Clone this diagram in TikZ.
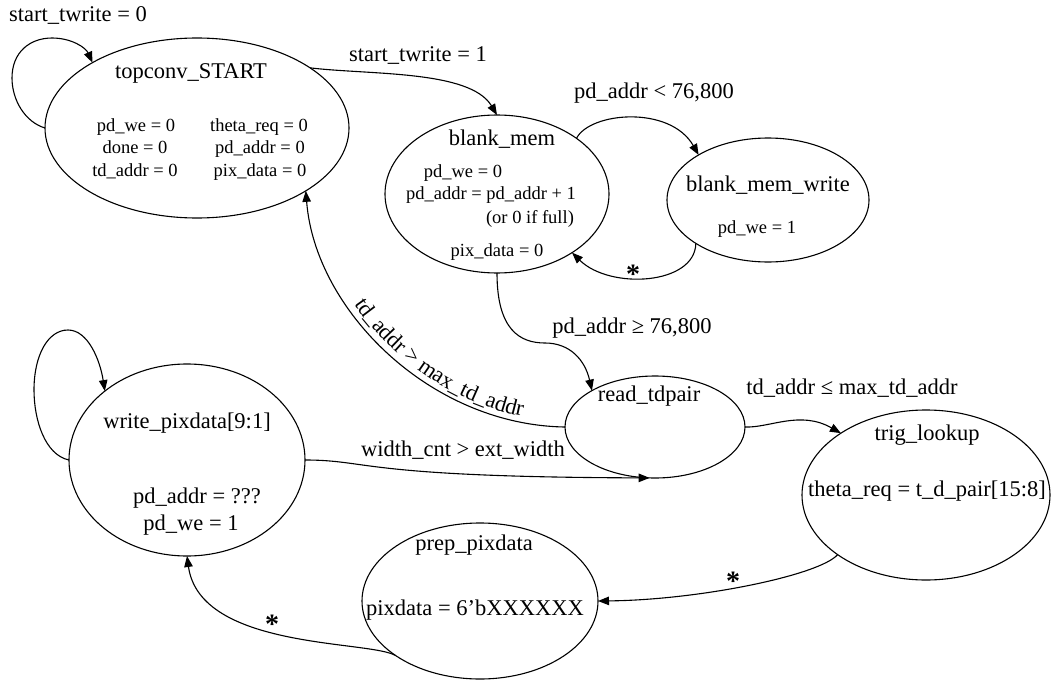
\documentclass[tikz,border=0pt]{standalone}
\usepackage{fontspec}
\setmainfont{Liberation Serif}
\usetikzlibrary{arrows.meta,shapes.geometric,decorations.text}
\newcommand\Lbig{\fontsize{22.5pt}{23pt}\selectfont}
\newcommand\Lsmall{\fontsize{18.5pt}{22pt}\selectfont}
\begin{document}
\begin{tikzpicture}[x=1pt,y=-1pt,
  st/.style={ellipse,draw,line width=1.1pt,inner sep=0pt,outer sep=0pt},
  lbl/.style={inner sep=0pt,font=\Lbig,text height=0.7em,text depth=0.1em},
  sml/.style={inner sep=0pt,font=\Lsmall,text height=0.7em,text depth=0.1em},
  arr/.style={draw,line width=1.1pt,-{Triangle[length=11pt,width=8.5pt]}},
  star/.style={inner sep=0pt,font=\fontsize{28pt}{28pt}\selectfont\bfseries}
]
\useasboundingbox (0,0) rectangle (1053,680);

% states
\node[st,minimum width=304pt,minimum height=180pt] (topconv) at (197,128) {};
\node[st,minimum width=224pt,minimum height=158pt] (blankmem) at (497,194) {};
\node[st,minimum width=202pt,minimum height=124pt] (blankwrite) at (768,200) {};
\node[st,minimum width=180pt,minimum height=102pt] (readtd) at (655,427) {};
\node[st,minimum width=248pt,minimum height=170pt] (trig) at (926,495) {};
\node[st,minimum width=236pt,minimum height=156pt] (prep) at (480,601) {};
\node[st,minimum width=236pt,minimum height=192pt] (writepix) at (187,460) {};

% state texts
\node[lbl] (tcname) at (191,75) {topconv\_START};
\node[sml] (tcl1) at (136,128) {pd\_we = 0};
\node[sml] (tcl2) at (135,150) {done = 0};
\node[sml] (tcl3) at (135,173) {td\_addr = 0};
\node[sml] (tcr1) at (259,128) {theta\_req = 0};
\node[sml] (tcr2) at (260,150) {pd\_addr = 0};
\node[sml] (tcr3) at (260,173) {pix\_data = 0};

\node[lbl] (bmname) at (502,142) {blank\_mem};
\node[sml] (bm1) at (463,174) {pd\_we = 0};
\node[sml] (bm2) at (491,196) {pd\_addr = pd\_addr + 1};
\node[sml] (bm3) at (530,220) {(or 0 if full)};
\node[sml] (bm4) at (497,253) {pix\_data = 0};

\node[lbl] (bwname) at (768,188) {blank\_mem\_write};
\node[sml] (bw1) at (757,230) {pd\_we = 1};

\node[lbl] (rtname) at (649,398) {read\_tdpair};

\node[lbl] (tlname) at (927,437) {trig\_lookup};
\node[lbl] (tl1) at (927,493) {theta\_req = t\_d\_pair[15:8]};

\node[lbl] (ppname) at (474,547) {prep\_pixdata};
\node[lbl] (pp1) at (475,612) {pixdata = 6’bXXXXXX};

\node[lbl] (wpname) at (187,425) {write\_pixdata[9:1]};
\node[lbl] (wp1) at (197,500) {pd\_addr = ???};
\node[lbl] (wp2) at (191,527) {pd\_we = 1};

% transitions
\draw[arr] (topconv.180) .. controls (25,122) and (12,100) .. (12,78)
  .. controls (12,52) and (30,38) .. (52,38)
  .. controls (72,38) and (86,48) .. (topconv.148);
\draw[arr] (topconv.28) .. controls (370,75) and (470,70) .. (blankmem.90);
\draw[arr] (blankmem.35) .. controls (590,112) and (670,105) .. (blankwrite.147);
\draw[arr] (blankwrite.211) .. controls (695,285) and (610,290) .. (blankmem.322);
\draw[arr] (blankmem.270) .. controls (497,330) and (520,343) .. (545,343)
  .. controls (570,343) and (585,360) .. (readtd.150);
\draw[arr] (readtd.180) .. controls (430,425) and (315,310) .. (topconv.330);
\draw[arr] (writepix.0) .. controls (370,460) and (360,477) .. (readtd.264);
\draw[arr] (readtd.0) .. controls (770,428) and (800,410) .. (trig.144);
\draw[arr] (trig.214) .. controls (820,575) and (700,600) .. (prep.0);
\draw[arr] (prep.213) .. controls (370,640) and (200,650) .. (writepix.270);
\draw[arr] (writepix.180) .. controls (45,455) and (34,420) .. (34,390)
  .. controls (34,355) and (48,330) .. (68,330)
  .. controls (88,330) and (100,360) .. (writepix.140);

% transition labels
\node[lbl] (l1) at (78,18) {start\_twrite = 0};
\node[lbl] (l2) at (418,58) {start\_twrite = 1};
\node[lbl] (l3) at (654,95) {pd\_addr < 76,800};
\node[lbl] (l4) at (632,330) {pd\_addr ≥ 76,800};
\node[lbl] (l5) at (463,453) {width\_cnt > ext\_width};
\node[lbl] (l6) at (852,391) {td\_addr ≤ max\_td\_addr};
\path[decorate,decoration={text along path,
  text={|\Lbig|td{\_}addr {>} max{\_}td{\_}addr},
  text align={left indent=126pt},raise=6pt}]
  (topconv.330) .. controls (315,310) and (430,425) .. (readtd.180);
\node[star] (s1) at (633,274) {*};
\node[star] (s2) at (733,581) {*};
\node[star] (s3) at (272,624) {*};
\end{tikzpicture}
\end{document}
